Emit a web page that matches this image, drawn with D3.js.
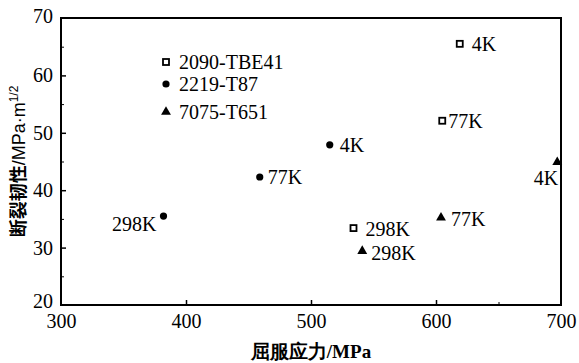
<!DOCTYPE html>
<html>
<head>
<meta charset="utf-8">
<script src="https://cdn.jsdelivr.net/npm/d3@7"></script>
<style>
  body { margin: 0; background: #fff; }
  text { fill: #000; }
</style>
</head>
<body>
<script>
// data
const alloys = ['2090-TBE41', '2219-T87', '7075-T651'];
const shapes = ['square', 'circle', 'triangle'];
const temps = ['298K', '77K', '4K'];
const yieldStress = [
  [534, 605, 619],   // 2090-TBE41
  [382, 459, 515],   // 2219-T87
  [541, 604, 697]    // 7075-T651
];
const toughness = [
  [33.4, 52.1, 65.5],
  [35.5, 42.3, 47.9],
  [29.4, 35.2, 44.9]
];
// label offsets relative to each marker [dx, dy, anchor]
const labelPos = [
  [[12, 8, 'start'], [6, 7, 'start'], [12, 7, 'start']],
  [[-7, 15, 'end'], [8, 7, 'start'], [10, 7, 'start']],
  [[9, 9, 'start'], [10, 8, 'start'], [1, 23, 'end']]
];
const xTicks = [300, 400, 500, 600, 700];
const yTicks = [20, 30, 40, 50, 60, 70];

const W = 579, H = 363;
const m = { left: 61, right: 18, top: 18, bottom: 58 };
const serif = '"Liberation Serif", "Times New Roman", serif';

const svg = d3.select('body').append('svg')
  .attr('width', W).attr('height', H)
  .style('font-family', serif);

const x = d3.scaleLinear().domain([300, 700]).range([m.left, W - m.right]);
const y = d3.scaleLinear().domain([20, 70]).range([H - m.bottom, m.top]);

// frame
svg.append('rect')
  .attr('x', x(300)).attr('y', y(70))
  .attr('width', x(700) - x(300)).attr('height', y(20) - y(70))
  .attr('fill', 'none').attr('stroke', '#000').attr('stroke-width', 2);

// x axis (ticks inward)
const xAxis = svg.append('g')
  .attr('transform', `translate(0,${y(20)})`)
  .call(d3.axisBottom(x).tickValues(xTicks).tickSizeInner(-5).tickSizeOuter(0).tickPadding(6))
  .attr('font-family', serif).attr('font-size', 20);
xAxis.select('.domain').remove();
xAxis.selectAll('line').attr('stroke-width', 1.5);
xAxis.selectAll('text').attr('dy', '0.85em');
xAxis.selectAll('.tick').filter(d => d === 300 || d === 700).select('line').remove();
svg.append('g')
  .attr('transform', `translate(0,${y(20)})`)
  .call(d3.axisBottom(x).tickValues([650]).tickSize(-3).tickFormat(''))
  .call(g => g.select('.domain').remove());

// y axis
const yAxis = svg.append('g')
  .attr('transform', `translate(${x(300)},0)`)
  .call(d3.axisLeft(y).tickValues(yTicks).tickSizeInner(-5).tickSizeOuter(0).tickPadding(8))
  .attr('font-family', serif).attr('font-size', 20);
yAxis.select('.domain').remove();
yAxis.selectAll('line').attr('stroke-width', 1.5);
yAxis.selectAll('.tick').filter(d => d === 20 || d === 70).select('line').remove();
yAxis.selectAll('.tick').filter(d => d === 20).select('text').attr('dy', '0.1em');
yAxis.selectAll('.tick').filter(d => d === 70).select('text').attr('dy', '0.2em');
svg.append('g')
  .attr('transform', `translate(${x(300)},0)`)
  .call(d3.axisLeft(y).tickValues([25, 35, 45, 55, 65]).tickSize(-3).tickFormat(''))
  .call(g => g.select('.domain').remove());

// axis titles
svg.append('text')
  .attr('x', (x(300) + x(700)) / 2).attr('y', 358)
  .attr('text-anchor', 'middle')
  .style('font-size', '19px').style('font-weight', 'bold')
  .text('屈服应力/MPa');

const yt = svg.append('text')
  .attr('transform', `translate(25,${(y(20) + y(70)) / 2}) rotate(-90)`)
  .attr('text-anchor', 'middle')
  .style('font-size', '18px')
  .style('font-family', '"Noto Sans CJK SC", "Liberation Sans", sans-serif');
yt.append('tspan').style('font-weight', 'bold').text('断裂韧性');
yt.append('tspan').style('font-family', '"Liberation Sans", sans-serif').text('/MPa·m');
yt.append('tspan').attr('dy', -7).style('font-size', '12px')
  .style('font-family', '"Liberation Sans", sans-serif').text('1/2');

// marker drawing
function marker(g, shape, cx, cy) {
  if (shape === 'square') {
    g.append('rect').attr('x', cx - 3).attr('y', cy - 3).attr('width', 6).attr('height', 6)
      .attr('fill', '#fff').attr('stroke', '#000').attr('stroke-width', 1.8);
  } else if (shape === 'circle') {
    g.append('circle').attr('cx', cx).attr('cy', cy).attr('r', 3.6).attr('fill', '#000');
  } else {
    g.append('path').attr('d', d3.symbol(d3.symbolTriangle, 42)())
      .attr('transform', `translate(${cx},${cy})`).attr('fill', '#000');
  }
}

const pts = svg.append('g');
alloys.forEach((a, i) => {
  temps.forEach((t, j) => {
    const cx = x(yieldStress[i][j]), cy = y(toughness[i][j]);
    marker(pts, shapes[i], cx, cy);
    const [dx, dy, anchor] = labelPos[i][j];
    pts.append('text')
      .attr('x', cx + dx).attr('y', cy + dy)
      .attr('text-anchor', anchor)
      .style('font-size', '20px')
      .text(t);
  });
});

// legend
const legY = [62, 84, 112];
const leg = svg.append('g');
alloys.forEach((a, i) => {
  marker(leg, shapes[i], 166, legY[i]);
  leg.append('text')
    .attr('x', 179).attr('y', legY[i] + 7)
    .style('font-size', '20px')
    .text(a);
});
</script>
</body>
</html>
